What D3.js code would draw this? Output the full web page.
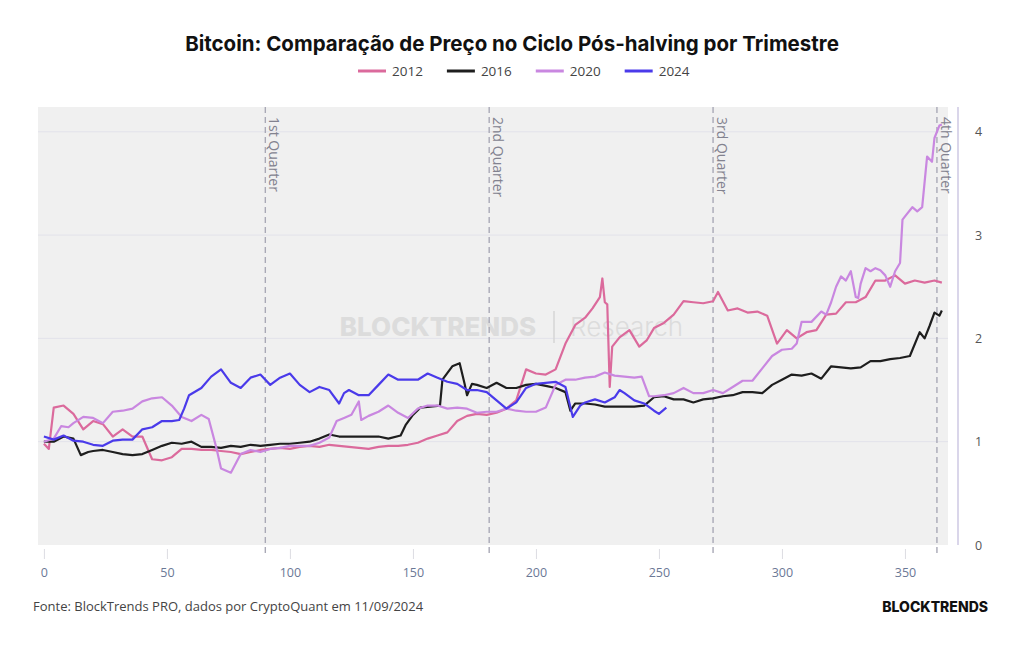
<!DOCTYPE html>
<html>
<head>
<meta charset="utf-8">
<script src="https://cdn.jsdelivr.net/npm/d3@7"></script>
<style>
  body { margin: 0; background: #fff; }
  #content { width: 1024px; height: 645px; }
  text { font-family: "Open Sans", sans-serif; }
</style>
</head>
<body>
<div id="content"></div>
<script>
// values: [day after halving, price multiple]
var s2012 = [[0,0.98],[2,0.93],[4,1.33],[8,1.35],[12,1.27],[16,1.12],[20,1.2],[24,1.17],[28,1.05],[32,1.12],[36,1.05],[40,1.05],[44,0.83],[48,0.82],[52,0.85],[56,0.93],[60,0.93],[64,0.92],[68,0.92],[72,0.91],[76,0.9],[80,0.88],[84,0.9],[88,0.92],[92,0.93],[96,0.94],[100,0.93],[104,0.95],[108,0.96],[112,0.95],[116,0.97],[120,0.96],[124,0.95],[128,0.94],[132,0.93],[136,0.95],[140,0.96],[144,0.96],[148,0.97],[152,0.99],[156,1.03],[160,1.06],[164,1.09],[168,1.2],[172,1.25],[176,1.27],[180,1.26],[184,1.28],[188,1.32],[192,1.4],[196,1.7],[200,1.66],[204,1.65],[208,1.7],[212,1.95],[216,2.13],[220,2.2],[223,2.29],[226,2.4],[227,2.58],[228,2.35],[229,2.33],[230,1.53],[231,1.92],[234,2.01],[238,2.08],[242,1.92],[245,1.98],[248,2.1],[252,2.15],[256,2.23],[260,2.36],[264,2.35],[268,2.34],[272,2.36],[274,2.45],[278,2.27],[282,2.29],[286,2.25],[290,2.26],[294,2.22],[298,1.95],[302,2.08],[306,2.0],[310,2.06],[314,2.08],[318,2.23],[322,2.24],[326,2.35],[330,2.35],[334,2.4],[338,2.56],[342,2.56],[346,2.61],[350,2.53],[354,2.56],[358,2.54],[362,2.56],[365,2.54]];
var s2016 = [[0,1.0],[4,1.0],[8,1.05],[12,1.03],[15,0.87],[18,0.9],[20,0.91],[24,0.92],[28,0.9],[32,0.88],[36,0.87],[40,0.88],[44,0.92],[48,0.96],[52,0.99],[56,0.98],[60,1.0],[64,0.95],[68,0.95],[72,0.94],[76,0.96],[80,0.95],[84,0.97],[88,0.96],[92,0.97],[96,0.98],[100,0.98],[104,0.99],[108,1.0],[112,1.03],[116,1.07],[120,1.05],[124,1.05],[128,1.05],[132,1.05],[136,1.05],[140,1.03],[145,1.06],[147,1.16],[150,1.26],[153,1.33],[157,1.34],[161,1.35],[162,1.6],[166,1.73],[169,1.76],[171,1.56],[172,1.45],[174,1.56],[176,1.55],[180,1.52],[184,1.57],[188,1.52],[192,1.52],[196,1.55],[200,1.56],[204,1.54],[208,1.52],[212,1.48],[214,1.3],[216,1.37],[220,1.37],[224,1.36],[228,1.34],[232,1.34],[236,1.34],[240,1.34],[244,1.35],[248,1.43],[252,1.44],[256,1.41],[260,1.41],[264,1.38],[268,1.41],[272,1.42],[276,1.44],[280,1.45],[284,1.48],[288,1.48],[292,1.47],[296,1.55],[300,1.6],[304,1.65],[308,1.64],[312,1.66],[316,1.61],[320,1.73],[324,1.72],[328,1.71],[332,1.72],[336,1.78],[340,1.78],[344,1.8],[348,1.81],[352,1.83],[356,2.06],[358,2.0],[360,2.12],[362,2.25],[364,2.22],[365,2.27]];
var s2020 = [[0,1.0],[4,1.03],[7,1.15],[10,1.14],[12,1.18],[16,1.24],[20,1.23],[24,1.18],[28,1.29],[32,1.3],[36,1.32],[40,1.39],[44,1.42],[48,1.43],[52,1.35],[56,1.24],[60,1.2],[64,1.26],[67,1.22],[70,0.95],[72,0.74],[76,0.7],[80,0.88],[84,0.92],[88,0.9],[92,0.93],[96,0.94],[100,0.96],[104,0.96],[108,0.96],[112,0.99],[116,1.04],[119,1.2],[122,1.23],[125,1.26],[128,1.39],[129,1.21],[132,1.25],[136,1.29],[140,1.35],[144,1.28],[148,1.23],[152,1.32],[156,1.35],[160,1.35],[164,1.32],[168,1.33],[172,1.32],[176,1.28],[180,1.29],[184,1.29],[188,1.32],[192,1.3],[196,1.29],[200,1.29],[204,1.33],[208,1.55],[212,1.6],[216,1.6],[220,1.62],[224,1.63],[228,1.67],[232,1.64],[236,1.63],[240,1.62],[243,1.63],[246,1.44],[248,1.44],[252,1.45],[256,1.47],[260,1.52],[264,1.47],[268,1.47],[272,1.5],[276,1.47],[280,1.53],[284,1.59],[288,1.59],[292,1.71],[296,1.83],[300,1.89],[304,1.9],[306,1.95],[308,2.16],[312,2.16],[316,2.26],[318,2.23],[320,2.35],[322,2.5],[324,2.6],[326,2.56],[328,2.65],[330,2.4],[331,2.39],[332,2.53],[334,2.68],[336,2.65],[338,2.68],[340,2.66],[342,2.61],[344,2.5],[346,2.65],[348,2.73],[349,3.15],[351,3.21],[353,3.27],[355,3.23],[357,3.27],[359,3.76],[361,3.71],[362,3.94],[364,4.06],[365,4.07]];
var s2024 = [[0,1.05],[4,1.02],[8,1.06],[12,1.01],[16,1.0],[20,0.97],[24,0.96],[28,1.01],[32,1.02],[36,1.02],[40,1.12],[44,1.14],[48,1.2],[52,1.2],[55,1.21],[57,1.32],[59,1.45],[64,1.52],[68,1.63],[72,1.7],[76,1.57],[80,1.52],[84,1.62],[88,1.65],[92,1.55],[96,1.62],[100,1.66],[104,1.55],[108,1.48],[112,1.53],[116,1.5],[120,1.37],[122,1.47],[124,1.5],[128,1.45],[132,1.45],[136,1.55],[140,1.65],[144,1.6],[148,1.6],[152,1.6],[156,1.66],[160,1.62],[164,1.58],[168,1.56],[172,1.5],[176,1.5],[180,1.48],[184,1.4],[188,1.32],[192,1.38],[196,1.52],[200,1.56],[204,1.57],[208,1.58],[212,1.53],[215,1.24],[218,1.35],[220,1.38],[224,1.41],[228,1.38],[232,1.43],[234,1.5],[236,1.47],[240,1.4],[244,1.37],[248,1.3],[250,1.27],[253,1.33]];

var seriesNames = ["2012", "2016", "2020", "2024"];
var seriesColors = ["#db6a9c", "#1e1e1e", "#c987e0", "#4a3aea"];
var quarterDays = [90, 181, 272, 363];
var quarterLabels = ["1st Quarter", "2nd Quarter", "3rd Quarter", "4th Quarter"];
var xTicks = [0, 50, 100, 150, 200, 250, 300, 350];
var yTicks = [0, 1, 2, 3, 4];

var title = "Bitcoin: Comparação de Preço no Ciclo Pós-halving por Trimestre";
var source = "Fonte: BlockTrends PRO, dados por CryptoQuant em 11/09/2024";

(function(d3) {
    var width = 1024, height = 645;
    var plot = {left: 38, right: 948, top: 107, bottom: 545};

    var svg = d3.select("#content").append("svg")
        .attr("viewBox", [0, 0, width, height])
        .attr("width", width).attr("height", height);

    var x = d3.scaleLinear().domain([-2.4, 367.5]).range([plot.left, plot.right]);
    var y = d3.scaleLinear().domain([0, 4.24]).range([plot.bottom, plot.top]);

    svg.append("rect")
        .attr("x", plot.left).attr("y", plot.top)
        .attr("width", plot.right - plot.left).attr("height", plot.bottom - plot.top)
        .attr("fill", "#f0f0f0");

    // grid
    svg.append("g").selectAll("line")
        .data(yTicks.slice(1)).join("line")
        .attr("x1", plot.left).attr("x2", plot.right)
        .attr("y1", function(d) { return y(d); }).attr("y2", function(d) { return y(d); })
        .attr("stroke", "#e2e2ea").attr("stroke-width", 1);

    // watermark
    var wm = svg.append("g").attr("fill", "#dcdcdc");
    wm.append("text").attr("x", 438).attr("y", 336).attr("text-anchor", "middle")
        .style("font-family", "Inter").style("font-weight", 800).style("font-size", "26px")
        .text("BLOCKTRENDS");
    wm.append("line").attr("x1", 554).attr("x2", 554).attr("y1", 311).attr("y2", 343)
        .attr("stroke", "#d6d6d6").attr("stroke-width", 1.5);
    wm.append("text").attr("x", 570).attr("y", 336)
        .style("font-family", "Inter").style("font-weight", 300).style("font-size", "26px")
        .text("Research");

    // x axis
    var xAxis = svg.append("g")
        .attr("class", "axis xaxis")
        .attr("transform", "translate(0," + (plot.bottom + 4) + ")")
        .call(d3.axisBottom(x).tickValues(xTicks).tickSize(10).tickPadding(9));
    xAxis.select(".domain").remove();
    xAxis.selectAll(".tick line").attr("stroke", "#dcdce2");
    xAxis.selectAll(".tick text").attr("fill", "#6b7896")
        .style("font-family", "Open Sans").style("font-size", "12.5px");

    // y axis on the right
    var yAxis = svg.append("g")
        .attr("class", "axis yaxis")
        .attr("transform", "translate(958,0)")
        .call(d3.axisRight(y).tickValues(yTicks).tickFormat(d3.format("d")).tickSize(0).tickPadding(17));
    yAxis.select(".domain").attr("stroke", "#dad6ea").attr("stroke-width", 2)
        .attr("d", "M0," + plot.top + "V" + plot.bottom);
    yAxis.selectAll(".tick text").attr("fill", "#555")
        .style("font-family", "Open Sans").style("font-size", "12.5px");

    // quarter markers
    var q = svg.append("g").selectAll("g").data(quarterDays).join("g");
    q.append("line")
        .attr("x1", function(d) { return x(d); }).attr("x2", function(d) { return x(d); })
        .attr("y1", plot.top).attr("y2", plot.bottom + 12)
        .attr("stroke", "#a9a9b6").attr("stroke-width", 1.4)
        .attr("stroke-dasharray", "6,4");
    q.append("text")
        .attr("transform", function(d) { return "translate(" + (x(d) + 4) + "," + (plot.top + 10) + ") rotate(90)"; })
        .attr("fill", "#82828f")
        .style("font-size", "14px")
        .text(function(d, i) { return quarterLabels[i]; });

    // lines
    var line = d3.line()
        .x(function(d) { return x(d[0]); })
        .y(function(d) { return y(d[1]); });
    [s2012, s2016, s2020, s2024].forEach(function(data, i) {
        svg.append("path")
            .datum(data)
            .attr("fill", "none")
            .attr("stroke", seriesColors[i])
            .attr("stroke-width", 2.2)
            .attr("stroke-linejoin", "round")
            .attr("d", line);
    });

    // title
    svg.append("text")
        .attr("x", width / 2).attr("y", 51)
        .attr("text-anchor", "middle")
        .attr("fill", "#111")
        .style("font-family", "Inter").style("font-weight", 700).style("font-size", "20.5px")
        .text(title);

    // legend
    var legend = svg.append("g");
    var lx = 358;
    seriesNames.forEach(function(name, i) {
        legend.append("line")
            .attr("x1", lx).attr("x2", lx + 28).attr("y1", 71).attr("y2", 71)
            .attr("stroke", seriesColors[i]).attr("stroke-width", 3);
        var t = legend.append("text")
            .attr("x", lx + 34).attr("y", 76)
            .attr("fill", "#444")
            .style("font-size", "13.5px")
            .text(name);
        lx += 34 + t.node().getComputedTextLength() + 24;
    });

    // footer
    svg.append("text")
        .attr("x", 33).attr("y", 611)
        .attr("fill", "#444")
        .style("font-size", "13px")
        .text(source);
    svg.append("text")
        .attr("x", 988).attr("y", 612)
        .attr("text-anchor", "end")
        .attr("fill", "#111")
        .style("font-family", "Inter").style("font-weight", 800).style("font-size", "14px")
        .text("BLOCKTRENDS");
})(d3);
</script>
</body>
</html>
